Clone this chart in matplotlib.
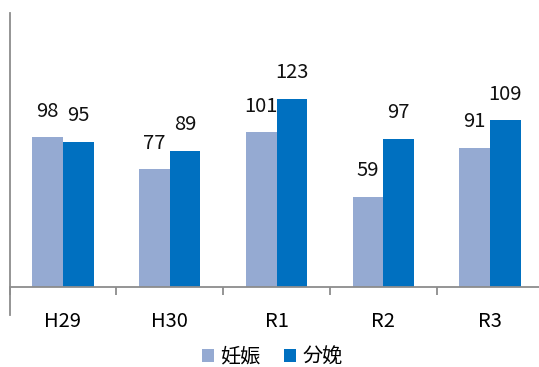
import numpy as np
import matplotlib.pyplot as plt
from matplotlib.lines import Line2D

plt.rcParams['font.family'] = ['Noto Sans CJK JP', 'DejaVu Sans']

categories = ['H29', 'H30', 'R1', 'R2', 'R3']
ninshin = [98, 77, 101, 59, 91]
bunben = [95, 89, 123, 97, 109]
series_names = ['妊娠', '分娩']
colors = ['#95AAD2', '#0070C0']

fig = plt.figure(figsize=(5.39, 3.67), dpi=100)
ax = fig.add_axes([9.5 / 539, 80 / 367, 534 / 539, 274 / 367])

x = np.arange(len(categories))
w = 0.287
for vals, off, name, c in [(ninshin, -w / 2, series_names[0], colors[0]),
                           (bunben, w / 2, series_names[1], colors[1])]:
    bars = ax.bar(x + off, vals, w, color=c, label=name)
    ax.bar_label(bars, padding=11, fontsize=14.5, color='#111111')

ax.set_xlim(-0.5, len(categories) - 0.5)
ax.set_ylim(0, 179)

for s in ['top', 'right']:
    ax.spines[s].set_visible(False)
ax.spines['left'].set_visible(False)
ax.spines['bottom'].set_color('#8C8C8C')
ax.spines['bottom'].set_linewidth(1.3)
ax.add_line(Line2D([0, 0], [1, -0.102], transform=ax.transAxes,
                   color='#8C8C8C', lw=1.3, clip_on=False))

ax.set_yticks([])
ax.set_xticks(x)
ax.set_xticklabels(categories, fontsize=14.5)
ax.tick_params(axis='x', which='major', length=0, pad=17)
ax.set_xticks(np.arange(len(categories) + 1) - 0.5, minor=True)
ax.tick_params(axis='x', which='minor', length=6, width=1.3, color='#8C8C8C')

leg = fig.legend(loc='lower center', bbox_to_anchor=(0.505, -0.05), ncol=2,
                 frameon=False, fontsize=14.5, handlelength=0.6, handleheight=0.6,
                 handletextpad=0.3, columnspacing=1.2)

fig.savefig('out.png', dpi=100)
